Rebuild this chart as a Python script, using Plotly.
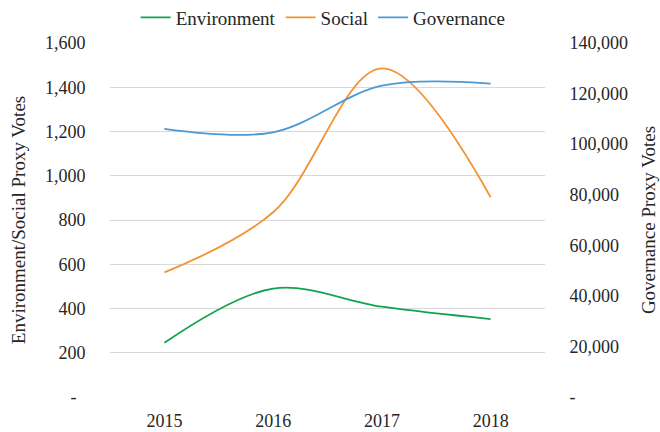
import plotly.graph_objects as go

years = ["2015", "2016", "2017", "2018"]
environment = [245, 490, 408, 352]
social = [563, 835, 1485, 903]
governance = [106000, 104700, 123100, 123900]

left_tickvals = [0, 200, 400, 600, 800, 1000, 1200, 1400, 1600]
left_ticktext = ["-\u00a0\u00a0", "200", "400", "600", "800", "1,000", "1,200", "1,400", "1,600"]
right_tickvals = [0, 20000, 40000, 60000, 80000, 100000, 120000, 140000]
right_ticktext = ["-", "20,000", "40,000", "60,000", "80,000", "100,000", "120,000", "140,000"]

FONT = "Liberation Serif"

fig = go.Figure()
fig.add_trace(go.Scatter(x=years, y=environment, name="Environment", mode="lines",
                         line=dict(color="#13A24D", width=1.8, shape="spline", smoothing=1.0)))
fig.add_trace(go.Scatter(x=years, y=social, name="Social", mode="lines",
                         line=dict(color="#F39332", width=1.8, shape="spline", smoothing=1.0)))
fig.add_trace(go.Scatter(x=years, y=governance, name="Governance", mode="lines", yaxis="y2",
                         line=dict(color="#4A9AD5", width=1.8, shape="spline", smoothing=1.0)))

fig.update_layout(
    width=660, height=432,
    margin=dict(l=110, r=115, t=43, b=35, autoexpand=False),
    paper_bgcolor="white", plot_bgcolor="white",
    font=dict(family=FONT, size=18, color="#262626"),
    legend=dict(orientation="h", x=0.49, xanchor="center", y=1.072, yanchor="middle",
                font=dict(size=19), bgcolor="rgba(0,0,0,0)",
                itemwidth=30, tracegroupgap=0),
    xaxis=dict(type="category", range=[-0.5, 3.5], showgrid=False, zeroline=False,
               showline=False, ticks="outside", ticklen=7, tickcolor="rgba(0,0,0,0)",
               tickfont=dict(size=18), automargin=False),
    yaxis=dict(range=[0, 1600], tickvals=left_tickvals, ticktext=left_ticktext,
               showgrid=True, gridcolor="#D9D9D9", gridwidth=1, zeroline=False,
               showline=False, ticks="outside", ticklen=20, tickcolor="rgba(0,0,0,0)",
               tickfont=dict(size=18), automargin=False,
               title=dict(text="Environment/Social Proxy Votes", font=dict(size=19), standoff=14)),
    yaxis2=dict(range=[0, 140000], tickvals=right_tickvals, ticktext=right_ticktext,
                overlaying="y", side="right", showgrid=False, zeroline=False, showline=False,
                ticks="outside", ticklen=20, tickcolor="rgba(0,0,0,0)",
                tickfont=dict(size=18), automargin=False,
                title=dict(text="Governance Proxy Votes", font=dict(size=19), standoff=14)),
)

fig.write_html("out.html", config={"displayModeBar": False},
               post_script="document.body.style.margin='0';document.body.style.padding='0';")
